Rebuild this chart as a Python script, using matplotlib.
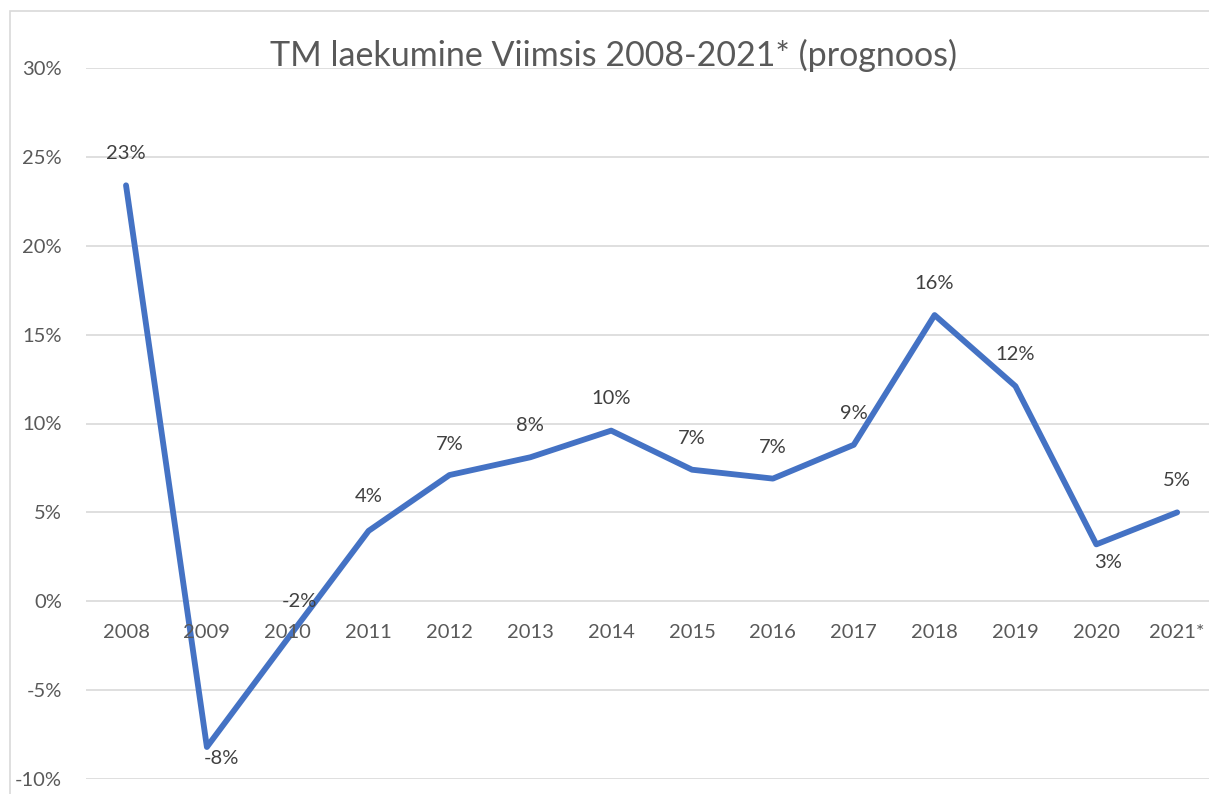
import matplotlib
matplotlib.use("Agg")
import matplotlib.pyplot as plt
from matplotlib.patches import Rectangle
from matplotlib.ticker import FuncFormatter

plt.rcParams['font.family'] = ['Lato', 'DejaVu Sans']

years = ["2008", "2009", "2010", "2011", "2012", "2013", "2014", "2015",
         "2016", "2017", "2018", "2019", "2020", "2021*"]
growth = [23.4, -8.2, -2.1, 3.96, 7.1, 8.1, 9.6, 7.4, 6.9, 8.8, 16.1, 12.1, 3.2, 5.0]
yticks = [-10, -5, 0, 5, 10, 15, 20, 25, 30]
title = "TM laekumine Viimsis 2008-2021* (prognoos)"

# label offsets in pixels (dx, dy screen-up positive)
label_offsets = [(0, 32), (15, -11), (12, 37), (0, 34), (0, 31), (0, 32), (0, 32),
                 (0, 31), (0, 31), (0, 31), (0, 32), (0, 32), (12, -18), (0, 32)]

W, H = 1209, 794
fig = plt.figure(figsize=(W / 100, H / 100), dpi=100)
fig.patch.set_facecolor("white")

# outer chart border (cropped at right and bottom)
fig.patches.append(Rectangle((10 / W, -0.5), 2.0, 1 - 11 / H + 0.5,
                             transform=fig.transFigure, fill=False,
                             edgecolor="#D9D9D9", linewidth=1.2))

left_px, right_px = 85.6, 1217.6
top_px, bot_px = 68, 779
ax = fig.add_axes([left_px / W, 1 - bot_px / H, (right_px - left_px) / W,
                   (bot_px - top_px) / H])
ax.set_facecolor("none")

x = list(range(len(years)))
ax.plot(x, growth, color="#4472C4", linewidth=4.2, solid_joinstyle="round",
        solid_capstyle="round", zorder=3, clip_on=False)

ax.set_xlim(-0.5, len(years) - 0.5)
ax.set_ylim(-10, 30)
ax.set_yticks(yticks)
ax.yaxis.set_major_formatter(FuncFormatter(lambda v, p: f"{v:.0f}%"))
ax.grid(axis="y", color="#D9D9D9", linewidth=1.2, zorder=0)
ax.set_axisbelow(True)
for s in ax.spines.values():
    s.set_visible(False)
ax.tick_params(axis="y", length=0, pad=17, labelsize=14.5, labelcolor="#595959")

ax.set_xticks(x)
ax.set_xticklabels([])
# category labels sitting under the 0% line
for xi, yr in zip(x, years):
    ax.annotate(yr, (xi, 0), xytext=(0, -31 * 0.72), textcoords="offset points",
                ha="center", va="center", fontsize=14.5, color="#595959")
ax.tick_params(axis="x", length=0)

for xi, v, (dx, dy) in zip(x, growth, label_offsets):
    ax.annotate(f"{round(v):.0f}%", (xi, v), xytext=(dx * 0.72, dy * 0.72),
                textcoords="offset points", ha="center", va="center",
                fontsize=14.5, color="#404040", zorder=4)

fig.text(613 / W, 1 - 55 / H, title, ha="center", va="center",
         fontsize=24.5, color="#595959")

fig.savefig("out.png", dpi=100)
